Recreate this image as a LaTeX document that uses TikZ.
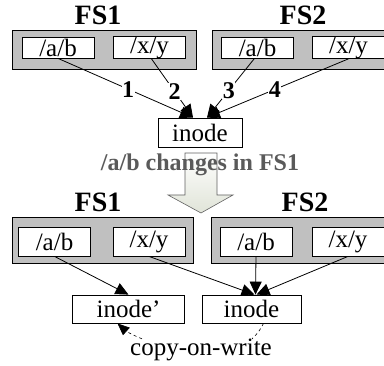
\documentclass[tikz,border=0pt]{standalone}
\usepackage{fontspec}
\setmainfont{Liberation Serif}
\usepackage{tikz}
\usetikzlibrary{arrows.meta, positioning, shapes.geometric}
\definecolor{mydark}{RGB}{0,0,0}
\definecolor{fsgray}{RGB}{192,192,192}
\definecolor{titlegray}{RGB}{90,90,90}
\definecolor{arrowfill}{RGB}{224,228,216}
\definecolor{arrowedge}{RGB}{96,96,96}
\tikzset{
  fsbox/.style={rectangle, draw=mydark, fill=fsgray, line width=0.8pt,
    inner sep=0pt},
  pathbox/.style={rectangle, draw=mydark, fill=white, line width=0.8pt,
    inner sep=0pt, minimum width=72pt, font=\fontsize{25}{27}\selectfont},
  inodebox/.style={rectangle, draw=mydark, fill=white, line width=0.8pt,
    inner sep=0pt, minimum height=28pt, font=\fontsize{25}{27}\selectfont},
  fslabel/.style={font=\fontsize{28}{30}\selectfont\bfseries, inner sep=0pt},
  numlabel/.style={font=\fontsize{24}{26}\selectfont\bfseries, fill=white,
    inner sep=0.5pt},
  arrow/.style={-{Triangle[length=13pt,width=12pt]}, line width=0.8pt, color=mydark},
  cowline/.style={dashed, line width=0.6pt, color=mydark}
}
\begin{document}
\begin{tikzpicture}[x=1pt, y=-1pt]
  \useasboundingbox (0,0) rectangle (384,366);
  % before the change
  \node[fslabel] (fs1top) at (98,15) {FS1};
  \node[fslabel] (fs2top) at (303,15) {FS2};
  \node[fsbox, minimum width=184pt, minimum height=39pt] (g1top) at (104,49.5) {};
  \node[fsbox, minimum width=184pt, minimum height=39pt] (g2top) at (304,49.5) {};
  \node[pathbox, minimum height=21pt] (ab1) at (58,47.5) {/a/b};
  \node[pathbox, minimum height=21pt] (xy1) at (149.5,47.5) {/x/y};
  \node[pathbox, minimum height=21pt] (ab2) at (257.5,47.5) {/a/b};
  \node[pathbox, minimum height=21pt] (xy2) at (348.5,47.5) {/x/y};
  \node[inodebox, minimum width=84pt, minimum height=29pt] (ino) at (200,132.5) {inode};
  \coordinate (inoL) at ([xshift=-7pt]ino.north);
  \coordinate (inoR) at ([xshift=7pt]ino.north);
  \draw[arrow] (ab1.south) -- node[numlabel, pos=0.52] {1} (inoL);
  \draw[arrow] ([xshift=2pt]xy1.south) -- node[numlabel, pos=0.56] {2} (inoL);
  \draw[arrow] ([xshift=-3pt]ab2.south) -- node[numlabel, pos=0.54] {3} (inoR);
  \draw[arrow] (xy2.south) -- node[numlabel, pos=0.52] {4} (inoR);
  % the change
  \shade[top color=white, bottom color=arrowfill, draw=arrowedge, line width=0.6pt]
    (185,153) -- (217,153) -- (217,195) -- (233,195) -- (201,213)
    -- (168,195) -- (185,195) -- cycle;
  \node[font=\fontsize{24}{26}\selectfont\bfseries, text=titlegray] (chg) at (200,165)
    {/a/b changes in FS1};
  % after the change
  \node[fslabel] (fs1bot) at (98,202) {FS1};
  \node[fslabel] (fs2bot) at (305,202) {FS2};
  \node[fsbox, minimum width=181pt, minimum height=46pt] (g1bot) at (102.5,240) {};
  \node[fsbox, minimum width=181pt, minimum height=46pt] (g2bot) at (301.5,240) {};
  \node[pathbox, minimum height=29pt] (ab1b) at (54.5,241.5) {/a/b};
  \node[pathbox, minimum height=29pt] (xy1b) at (149,241.5) {/x/y};
  \node[pathbox, minimum height=29pt] (ab2b) at (256,241.5) {/a/b};
  \node[pathbox, minimum height=29pt] (xy2b) at (348,241.5) {/x/y};
  \node[inodebox, minimum width=112pt] (inonew) at (128.5,309) {inode'};
  \node[inodebox, minimum width=99pt] (inoold) at (251.5,309) {inode};
  \draw[arrow] (ab1b.south) -- (inonew.north);
  \draw[arrow] (xy1b.south) -- ([xshift=3pt]inoold.north);
  \draw[arrow] (ab2b.south) -- ([xshift=4pt]inoold.north);
  \draw[arrow] (xy2b.south) -- ([xshift=5pt]inoold.north);
  \node[font=\fontsize{25}{27}\selectfont, inner sep=0pt] (cow) at (201,350) {copy-on-write};
  \draw[cowline] ([xshift=12pt]inoold.south) to[bend left=10] ([xshift=-20pt]cow.north east);
  \draw[cowline, -{Triangle[length=12pt,width=10pt]}] ([xshift=12pt]cow.north west)
    to[bend left=10] ([xshift=-11pt]inonew.south);
\end{tikzpicture}
\end{document}
